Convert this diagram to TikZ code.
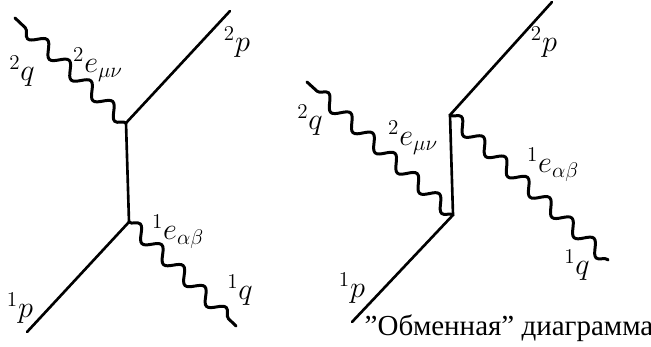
\documentclass[tikz,border=0pt]{standalone}
\usepackage{fontspec}
\newfontfamily\cyrfont{Liberation Serif}
\usetikzlibrary{decorations.pathmorphing}
\tikzset{
  electron/.style={line width=1.5pt,line cap=round},
  photon/.style={line width=1.7pt,line cap=round,decorate,
    decoration={snake,segment length=0.6cm,amplitude=0.13cm}},
  lab/.style={inner sep=0pt,font=\LARGE}
}
\begin{document}
\begin{tikzpicture}[scale=1.0]
\useasboundingbox (0,0) rectangle (13.02,6.92);

\coordinate (upA) at (2.52,4.46);
\coordinate (lowA) at (2.58,2.48);
\coordinate (ptwoA) at (4.60,6.70);
\coordinate (poneA) at (0.54,0.28);
\coordinate (qtwoA) at (0.30,6.56);
\coordinate (qoneA) at (4.72,0.40);
\draw[electron] (poneA)--(lowA)--(upA)--(ptwoA);
\draw[photon] (upA)--(qtwoA);
\draw[photon] (lowA)--(qoneA);
\node[lab] (lqtwoA) at (0.44,5.50) {$^2q$};
\node[lab] (lptwoA) at (4.74,6.08) {$^2p$};
\node[lab] (letwoA) at (1.96,5.62) {$^2e_{\mu\nu}$};
\node[lab] (leoneA) at (3.56,2.28) {$^1e_{\alpha\beta}$};
\node[lab] (lqoneA) at (4.80,1.12) {$^1q$};
\node[lab] (lponeA) at (0.40,0.76) {$^1p$};

\coordinate (upB) at (9.00,4.62);
\coordinate (lowB) at (9.06,2.62);
\coordinate (ptwoB) at (11.04,6.88);
\coordinate (poneB) at (7.04,0.48);
\coordinate (qtwoB) at (6.14,5.28);
\coordinate (qoneB) at (12.16,1.72);
\draw[electron] (poneB)--(lowB)--(upB)--(ptwoB);
\draw[photon] (lowB)--(qtwoB);
\draw[photon] (upB)--(qoneB);
\node[lab] (lqtwoB) at (6.20,4.52) {$^2q$};
\node[lab] (lptwoB) at (10.88,6.08) {$^2p$};
\node[lab] (letwoB) at (8.26,4.16) {$^2e_{\mu\nu}$};
\node[lab] (leoneB) at (11.06,3.62) {$^1e_{\alpha\beta}$};
\node[lab] (lqoneB) at (11.54,1.62) {$^1q$};
\node[lab] (lponeB) at (7.04,1.16) {$^1p$};
\node[inner sep=0pt,font=\cyrfont\fontsize{16.5}{18}\selectfont] (caption) at (10.18,0.36) {”Обменная” диаграмма};
\end{tikzpicture}
\end{document}
